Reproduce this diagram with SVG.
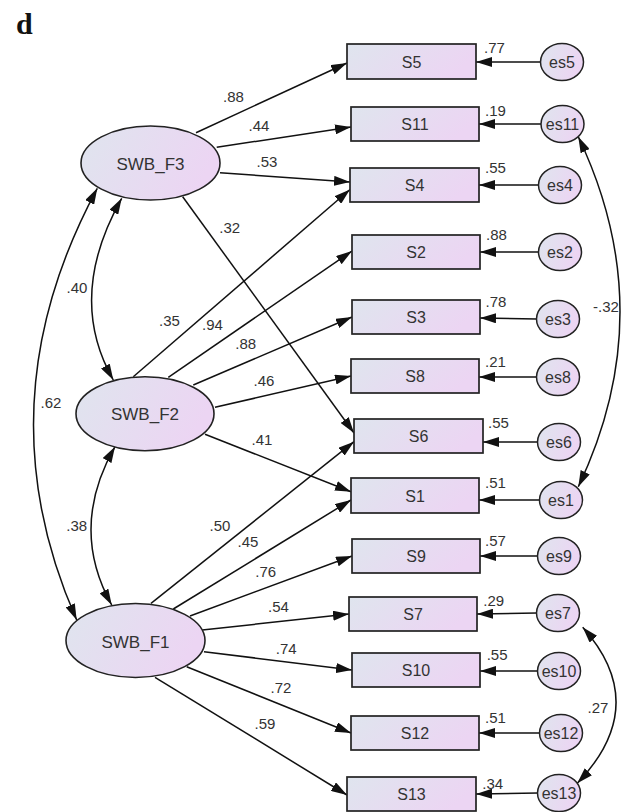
<svg xmlns="http://www.w3.org/2000/svg" width="623" height="812" viewBox="0 0 623 812">
<defs>
<linearGradient id="g" x1="0" y1="0" x2="1" y2="0.3">
<stop offset="0" stop-color="#dfe5ee"/>
<stop offset="1" stop-color="#ecd5f3"/>
</linearGradient>
<marker id="ah" markerUnits="userSpaceOnUse" markerWidth="16" markerHeight="10" refX="16" refY="5" orient="auto-start-reverse">
<path d="M0,0 L16,5 L0,10 z" fill="#111"/>
</marker>
<style>
.box{fill:url(#g);stroke:#222;stroke-width:1.7}
.lat{fill:url(#g);stroke:#222;stroke-width:1.6}
.err{fill:url(#g);stroke:#222;stroke-width:1.5}
.t{font-family:"Liberation Sans",Arial,sans-serif;fill:#333;text-anchor:middle}
.n{font-size:16px}
.l{font-size:17px}
.e{font-size:16px}
.c{font-size:15px}
.v{font-size:15px;text-anchor:start}
.p{fill:none;stroke:#111;stroke-width:1.5;marker-end:url(#ah)}
.d{fill:none;stroke:#111;stroke-width:1.5;marker-start:url(#ah);marker-end:url(#ah)}
</style>
</defs>
<text x="16" y="34" style="font-family:'Liberation Serif','Times New Roman',serif;font-weight:bold;font-size:30px;fill:#111">d</text>

<g id="connectors">
<path class="p" d="M196,132.7 L347,63"/>
<path class="p" d="M216.7,147.3 L351,127"/>
<path class="p" d="M220,172.7 L350,182"/>
<path class="p" d="M182.7,196.7 L354,433"/>
<path class="p" d="M133.3,376.7 L350,189.5"/>
<path class="p" d="M168.3,377.3 L352,251"/>
<path class="p" d="M193.3,385 L352,317"/>
<path class="p" d="M215,407.3 L351,376"/>
<path class="p" d="M205,434.3 L351,491.7"/>
<path class="p" d="M151,603.3 L354,441.7"/>
<path class="p" d="M173.3,609 L351,500"/>
<path class="p" d="M190,616 L352,556"/>
<path class="p" d="M202.3,630 L349,614"/>
<path class="p" d="M204,651.7 L352,670"/>
<path class="p" d="M186.7,666.7 L351,733"/>
<path class="p" d="M155,677.3 L347,795"/>
<path class="p" d="M541,62 L476,62"/>
<path class="p" d="M541,124 L479,124"/>
<path class="p" d="M539,185 L479,185"/>
<path class="p" d="M539,252 L480,252"/>
<path class="p" d="M537,319 L480,318"/>
<path class="p" d="M537,377 L479,377"/>
<path class="p" d="M538,442 L483,442"/>
<path class="p" d="M540,500 L479,500"/>
<path class="p" d="M538,556 L480,556"/>
<path class="p" d="M537,613 L477,614"/>
<path class="p" d="M538,671 L480,671"/>
<path class="p" d="M540,733 L479,733"/>
<path class="p" d="M538,793 L476,794"/>
<path class="d" d="M121.7,198.3 Q66,297 113.3,380"/>
<path class="d" d="M97.3,188.3 Q-19,404 76.7,620"/>
<path class="d" d="M115,446.7 Q68.7,527.6 111.7,605"/>
<path class="d" d="M578.3,136.7 Q661.7,311.7 578.3,486.7"/>
<path class="d" d="M582.7,627.3 Q652,705 577.3,783.3"/>
<text class="t c" x="233.5" y="101.7">.88</text>
<text class="t c" x="259" y="130.7">.44</text>
<text class="t c" x="267" y="166.7">.53</text>
<text class="t c" x="229.7" y="233">.32</text>
<text class="t c" x="77" y="292.7">.40</text>
<text class="t c" x="169.5" y="326">.35</text>
<text class="t c" x="212.5" y="330">.94</text>
<text class="t c" x="245.8" y="349">.88</text>
<text class="t c" x="264" y="386">.46</text>
<text class="t c" x="51" y="407.7">.62</text>
<text class="t c" x="262" y="445">.41</text>
<text class="t c" x="76.7" y="530.7">.38</text>
<text class="t c" x="220" y="530.7">.50</text>
<text class="t c" x="248" y="547">.45</text>
<text class="t c" x="265.8" y="576.7">.76</text>
<text class="t c" x="278.5" y="611.7">.54</text>
<text class="t c" x="286.3" y="654">.74</text>
<text class="t c" x="281" y="693.3">.72</text>
<text class="t c" x="265" y="729">.59</text>
<text class="t c" x="598" y="712.7">.27</text>
<text class="t c" x="606" y="311.7">-.32</text>
</g>

<g id="SWB_F3"><ellipse class="lat" cx="150.5" cy="163" rx="69.5" ry="37"/><text class="t l" x="150.5" y="170">SWB_F3</text></g>
<g id="SWB_F2"><ellipse class="lat" cx="145" cy="413.7" rx="69" ry="37"/><text class="t l" x="145" y="420">SWB_F2</text></g>
<g id="SWB_F1"><ellipse class="lat" cx="135.5" cy="640.5" rx="69.5" ry="37"/><text class="t l" x="135.5" y="647.7">SWB_F1</text></g>

<g id="S5"><rect class="box" x="347" y="44" width="129" height="35"/><text class="t n" x="411.5" y="67.5">S5</text><text class="t v" x="484" y="53">.77</text></g>
<g id="S11"><rect class="box" x="351" y="107" width="128" height="34"/><text class="t n" x="415" y="130">S11</text><text class="t v" x="485" y="116">.19</text></g>
<g id="S4"><rect class="box" x="350" y="168" width="129" height="34"/><text class="t n" x="414.5" y="191">S4</text><text class="t v" x="485" y="173">.55</text></g>
<g id="S2"><rect class="box" x="352" y="235" width="128" height="34"/><text class="t n" x="416" y="258">S2</text><text class="t v" x="486" y="240">.88</text></g>
<g id="S3"><rect class="box" x="352" y="300" width="128" height="34"/><text class="t n" x="416" y="323">S3</text><text class="t v" x="485.5" y="306.5">.78</text></g>
<g id="S8"><rect class="box" x="351" y="359" width="128" height="34"/><text class="t n" x="415" y="382">S8</text><text class="t v" x="485" y="367">.21</text></g>
<g id="S6"><rect class="box" x="354" y="419" width="129" height="34"/><text class="t n" x="418.5" y="442">S6</text><text class="t v" x="488" y="428">.55</text></g>
<g id="S1"><rect class="box" x="351" y="478" width="128" height="35"/><text class="t n" x="415" y="501.5">S1</text><text class="t v" x="485" y="488">.51</text></g>
<g id="S9"><rect class="box" x="352" y="539" width="128" height="34"/><text class="t n" x="416" y="562">S9</text><text class="t v" x="485" y="546">.57</text></g>
<g id="S7"><rect class="box" x="349" y="597" width="128" height="34"/><text class="t n" x="413" y="620">S7</text><text class="t v" x="483.3" y="605.7">.29</text></g>
<g id="S10"><rect class="box" x="352" y="653" width="128" height="34"/><text class="t n" x="416" y="676">S10</text><text class="t v" x="486.7" y="660">.55</text></g>
<g id="S12"><rect class="box" x="351" y="716" width="128" height="34"/><text class="t n" x="415" y="739">S12</text><text class="t v" x="485" y="723">.51</text></g>
<g id="S13"><rect class="box" x="347" y="777" width="129" height="34"/><text class="t n" x="411.5" y="800">S13</text><text class="t v" x="482.3" y="789">.34</text></g>

<g id="es5"><ellipse class="err" cx="562" cy="62" rx="21.5" ry="18.5"/><text class="t e" x="562" y="67.5">es5</text></g>
<g id="es11"><ellipse class="err" cx="562.5" cy="124" rx="21.5" ry="18.5"/><text class="t e" x="562.5" y="129.5">es11</text></g>
<g id="es4"><ellipse class="err" cx="560" cy="185" rx="21.5" ry="18.5"/><text class="t e" x="560" y="190.5">es4</text></g>
<g id="es2"><ellipse class="err" cx="560" cy="252" rx="21.5" ry="18.5"/><text class="t e" x="560" y="257.5">es2</text></g>
<g id="es3"><ellipse class="err" cx="558" cy="319" rx="21.5" ry="18.5"/><text class="t e" x="558" y="324.5">es3</text></g>
<g id="es8"><ellipse class="err" cx="558" cy="377" rx="21.5" ry="18.5"/><text class="t e" x="558" y="382.5">es8</text></g>
<g id="es6"><ellipse class="err" cx="559" cy="442" rx="21.5" ry="18.5"/><text class="t e" x="559" y="447.5">es6</text></g>
<g id="es1"><ellipse class="err" cx="561" cy="500" rx="21.5" ry="18.5"/><text class="t e" x="561" y="505.5">es1</text></g>
<g id="es9"><ellipse class="err" cx="559" cy="556" rx="21.5" ry="18.5"/><text class="t e" x="559" y="561.5">es9</text></g>
<g id="es7"><ellipse class="err" cx="558" cy="613" rx="21.5" ry="18.5"/><text class="t e" x="558" y="618.5">es7</text></g>
<g id="es10"><ellipse class="err" cx="559" cy="671" rx="21.5" ry="18.5"/><text class="t e" x="559" y="676.5">es10</text></g>
<g id="es12"><ellipse class="err" cx="561" cy="733" rx="21.5" ry="18.5"/><text class="t e" x="561" y="738.5">es12</text></g>
<g id="es13"><ellipse class="err" cx="559" cy="793" rx="21.5" ry="18.5"/><text class="t e" x="559" y="798.5">es13</text></g>
</svg>
